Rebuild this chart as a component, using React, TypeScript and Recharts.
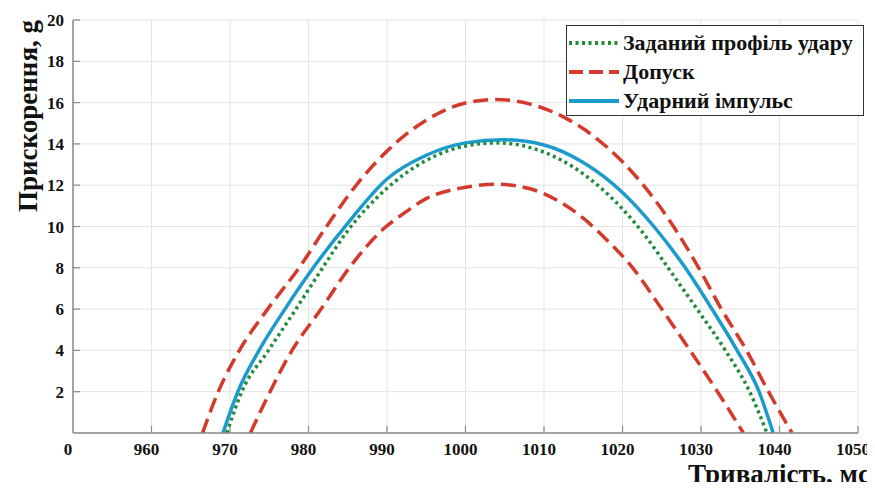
import React from 'react';
import { LineChart, Line, XAxis, YAxis, CartesianGrid, Label } from 'recharts';

// Заданий профіль удару (green dotted)
const profileT = [969.6, 971.5, 974.9, 978.4, 981.8, 985.0, 990.0, 995.0, 1000.0, 1004.0, 1010.0, 1015.0, 1020.0, 1023.0, 1025.8, 1029.5, 1033.1, 1036.2, 1038.4];
const profileG = [0, 2, 4, 6, 8, 9.8, 11.85, 13.2, 13.9, 14.05, 13.6, 12.55, 10.85, 9.5, 8, 6, 4, 2, 0];

// Допуск – upper (red dashed)
const upperT = [966.5, 968.5, 971.2, 974.8, 978.8, 982.3, 986.5, 990.0, 995.0, 1000.0, 1003.8, 1008.0, 1013.0, 1018.0, 1022.0, 1026.5, 1029.7, 1032.6, 1035.8, 1038.6, 1041.6];
const upperG = [0, 2, 4, 6, 8, 10, 12.2, 13.65, 15.15, 15.98, 16.15, 15.95, 15.2, 13.85, 12.3, 10, 8, 6, 4, 2, 0];

// Допуск – lower (red dashed)
const lowerT = [972.6, 975.1, 977.9, 981.6, 985.2, 989.6, 992.0, 995.0, 1000.0, 1004.0, 1008.0, 1012.0, 1015.0, 1018.0, 1021.3, 1025.0, 1028.6, 1032.1, 1035.4];
const lowerG = [0, 2, 4, 6, 8, 9.9, 10.6, 11.35, 11.9, 12.05, 11.85, 11.2, 10.4, 9.35, 8, 6, 4, 2, 0];

// Ударний імпульс (blue solid)
const pulseT = [969.1, 971.0, 973.7, 977.0, 980.6, 985.3, 990.0, 995.0, 1000.0, 1004.8, 1010.0, 1015.0, 1020.0, 1024.0, 1028.0, 1031.4, 1034.6, 1037.4, 1039.2];
const pulseG = [0, 2, 4, 6, 8, 10.3, 12.3, 13.45, 14.05, 14.2, 13.95, 13.1, 11.65, 10.0, 8, 6, 4, 2, 0];

const xTicks = [950, 960, 970, 980, 990, 1000, 1010, 1020, 1030, 1040, 1050];
const xTickLabels = ['0', '960', '970', '980', '990', '1000', '1010', '1020', '1030', '1040', '1050'];
const yTicks = [0, 2, 4, 6, 8, 10, 12, 14, 16, 18, 20];
const yTickLabels = ['', '2', '4', '6', '8', '10', '12', '14', '16', '18', '20'];

const legendLabels = ['Заданий профіль удару', 'Допуск', 'Ударний імпульс'];
const xTitle = 'Тривалість, мс';
const yTitle = 'Прискорення, g';

const GREEN = '#1f8b3b';
const RED = '#d33a2c';
const BLUE = '#1b9bcb';
const AXIS = '#8a8a8a';
const FONT = '"Liberation Serif", "DejaVu Serif", serif';

const zip = (t: number[], g: number[]) => t.map((x, i) => ({ t: x, g: g[i] }));

const W = 866;
const H = 475;

const legendStyles = [
  { stroke: GREEN, dash: '3 3.5', width: 4 },
  { stroke: RED, dash: '14 6', width: 4 },
  { stroke: BLUE, dash: undefined, width: 4 },
];

const XTick = (props: any) => {
  const { x, y, payload } = props;
  const label = xTickLabels[xTicks.indexOf(payload.value)] ?? String(payload.value);
  return (
    <g>
      {payload.value !== 950 && (
        <line x1={x} x2={x} y1={y - 10} y2={y - 17} stroke={AXIS} strokeWidth={1.2} />
      )}
      <text x={x - 5} y={y} dy="0.71em" textAnchor="middle" fontFamily={FONT} fontWeight={700} fontSize={17} fill="#111">
        {label}
      </text>
    </g>
  );
};

const YTick = (props: any) => {
  const { x, y, payload } = props;
  const label = yTickLabels[yTicks.indexOf(payload.value)] ?? String(payload.value);
  return (
    <g>
      {payload.value !== 0 && (
        <line x1={x + 9} x2={x + 16} y1={y} y2={y} stroke={AXIS} strokeWidth={1.2} />
      )}
      <text x={x} y={y} dy="0.355em" textAnchor="end" fontFamily={FONT} fontWeight={700} fontSize={17} fill="#111">
        {label}
      </text>
    </g>
  );
};

export default function App() {
  return (
    <div style={{ position: 'relative', width: W, height: 482, marginBottom: -8 }}>
      <LineChart width={W} height={H} margin={{ top: 12, right: 16, bottom: 20, left: 25 }}>
        <CartesianGrid stroke="#e3e3e3" strokeWidth={1} />
        <XAxis
          type="number"
          dataKey="t"
          domain={[950, 1050]}
          ticks={xTicks}
          allowDataOverflow
          axisLine={{ stroke: AXIS, strokeWidth: 1.5 }}
          tickLine={false}
          tickSize={0}
          tickMargin={10}
          tick={<XTick />}
          height={30}
        />
        <YAxis
          type="number"
          domain={[0, 20]}
          ticks={yTicks}
          allowDataOverflow
          axisLine={{ stroke: AXIS, strokeWidth: 1.5 }}
          tickLine={false}
          tickSize={0}
          tickMargin={9}
          tick={<YTick />}
          width={40}
        >
          <Label
            content={() => (
              <text
                x={0}
                y={0}
                transform="translate(29 108) rotate(-90)"
                textAnchor="middle"
                fontFamily={FONT}
                fontWeight={700}
                fontSize={27}
                fill="#111"
              >
                {yTitle}
              </text>
            )}
          />
        </YAxis>
        <Line data={zip(upperT, upperG)} dataKey="g" type="monotone" stroke={RED} strokeWidth={3.5} strokeDasharray="15 7" dot={false} isAnimationActive={false} />
        <Line data={zip(lowerT, lowerG)} dataKey="g" type="monotone" stroke={RED} strokeWidth={3.5} strokeDasharray="15 7" dot={false} isAnimationActive={false} />
        <Line data={zip(pulseT, pulseG)} dataKey="g" type="monotone" stroke={BLUE} strokeWidth={3.5} dot={false} isAnimationActive={false} />
        <Line data={zip(profileT, profileG)} dataKey="g" type="monotone" stroke={GREEN} strokeWidth={3.5} strokeDasharray="3 3.5" dot={false} isAnimationActive={false} />
      </LineChart>
      <div
        style={{
          position: 'absolute',
          left: 0,
          top: 456,
          width: 862,
          height: 20,
          textAlign: 'right',
          fontFamily: FONT,
          fontWeight: 700,
          fontSize: 27,
          lineHeight: '20px',
          color: '#111',
          whiteSpace: 'nowrap',
        }}
      >
        {xTitle}
      </div>
      <div
        style={{
          position: 'absolute',
          left: 558,
          top: 17,
          width: 298,
          height: 91,
          border: '1.5px solid #333',
          background: '#fff',
          boxSizing: 'border-box',
        }}
      >
        {legendLabels.map((label, i) => (
          <div
            key={label}
            style={{
              position: 'absolute',
              left: 2,
              top: 3 + i * 29,
              height: 28,
              display: 'flex',
              alignItems: 'center',
              whiteSpace: 'nowrap',
            }}
          >
            <svg width={50} height={10} style={{ display: 'block' }}>
              <line
                x1={0}
                y1={5}
                x2={50}
                y2={5}
                stroke={legendStyles[i].stroke}
                strokeWidth={legendStyles[i].width}
                strokeDasharray={legendStyles[i].dash}
              />
            </svg>
            <span style={{ fontFamily: FONT, fontWeight: 700, fontSize: 22, color: '#111', marginLeft: 4 }}>{label}</span>
          </div>
        ))}
      </div>
    </div>
  );
}
